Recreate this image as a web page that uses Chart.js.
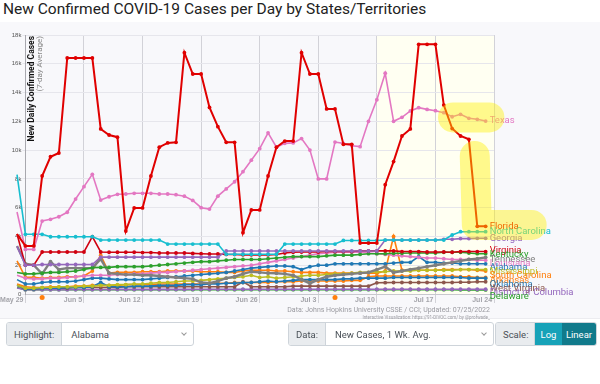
<!DOCTYPE html>
<html>
<head>
<meta charset="utf-8">
<script src="https://cdn.jsdelivr.net/npm/chart.js@4.4.0/dist/chart.umd.min.js"></script>
<style>
  html, body { margin: 0; padding: 0; background: #fff; }
  body { width: 600px; height: 384px; position: relative; overflow: hidden; font-family: Roboto, Arial, sans-serif; }
  #title { position: absolute; left: 3px; top: 0px; font-size: 15.5px; color: #222; white-space: nowrap; }
  #panel { position: absolute; left: 0; top: 22px; width: 600px; height: 296px; background: #f8f8fb; border-bottom: 1px solid #ececf0; }
  #chart { position: absolute; left: 0; top: 0; }
  .src { position: absolute; right: 110px; color: #9a9aa0; white-space: nowrap; }
  .grp { position: absolute; top: 322px; height: 22px; border: 1px solid #ced4da; border-radius: 3px; background: #fff; font-size: 9.5px; color: #495057; display: flex; align-items: center; overflow: hidden; }
  .lbl { background: #e9ecef; height: 100%; display: flex; align-items: center; padding: 0 7px; border-right: 1px solid #ced4da; }
  .sel { padding-left: 9px; flex: 1; }
  .chev { width: 3px; height: 3px; border-right: 1px solid #999; border-bottom: 1px solid #999; transform: rotate(45deg); margin: 0 7px 3px 0; }
  .btn { height: 100%; display: flex; align-items: center; justify-content: center; color: #fff; font-size: 9.5px; }
</style>
</head>
<body>
<div id="title">New Confirmed COVID-19 Cases per Day by States/Territories</div>
<div id="panel"></div>
<canvas id="chart" width="600" height="320"></canvas>
<div class="src" style="top:306px;font-size:7px;">Data: Johns Hopkins University CSSE / CCI; Updated: 07/25/2022</div>
<div class="src" style="top:315px;font-size:4.5px;">Interactive Visualization: https://91-DIVOC.com/ by @profwade_</div>

<div class="grp" style="left:6px;width:186px;"><span class="lbl">Highlight:</span><span class="sel">Alabama</span><span class="chev"></span></div>
<div class="grp" style="left:288px;width:204px;"><span class="lbl">Data:</span><span class="sel">New Cases, 1 Wk. Avg.</span><span class="chev"></span></div>
<div class="grp" style="left:495px;width:100px;"><span class="lbl" style="width:24px;">Scale:</span><span class="btn" style="background:#17a2b8;width:27px;">Log</span><span class="btn" style="background:#117a8b;flex:1;">Linear</span></div>

<script>
// first value is May 26 (3 days before the May 29 axis start), one value per day up to Jul 23
const startOffset = -3;
const weekTicks = [0, 7, 14, 21, 28, 35, 42, 49, 56];
const weekLabels = ['May 29', 'Jun 5', 'Jun 12', 'Jun 19', 'Jun 26', 'Jul 3', 'Jul 10', 'Jul 17', 'Jul 24'];
const yTicks = [0, 2000, 4000, 6000, 8000, 10000, 12000, 14000, 16000, 18000];

const florida = [4170, 4170, 4170,
  3340, 3340, 8200, 9540, 9800, 16400, 16400,
  16400, 16400, 11470, 11050, 10900, 4380, 5980,
  5980, 8200, 10200, 10500, 10540, 16770, 15290,
  15290, 12970, 11630, 10540, 10540, 4260, 5840,
  5840, 8200, 10200, 10630, 10630, 16770, 15290,
  15290, 12860, 12860, 10400, 10400, 3540, 3540,
  3540, 7600, 9200, 10980, 11470, 17350, 17350,
  17350, 13130, 11500, 10980, 10750, 4700, 4700];
const texas = [6300, 6000, 5700,
  3100, 3100, 5070, 5190, 5370, 5680, 6600,
  7460, 8320, 6530, 6760, 6930, 6950, 7000,
  7000, 7000, 6950, 6950, 6900, 6800, 6500,
  6000, 5900, 6800, 7300, 7800, 8500, 9300,
  10100, 11200, 10200, 10470, 10500, 10800, 10000,
  8000, 8000, 10560, 10470, 10300, 10240, 12000,
  13500, 15340, 12000, 12280, 12720, 12950, 12830,
  12740, 12600, 12320, 12490, 12210, 12140, 12020];
const northCarolina = [8300, 8300, 8300,
  4150, 4150, 4150, 3980, 3980, 3980, 3980,
  3980, 3980, 3750, 3750, 3750, 3750, 3750,
  3750, 3750, 3750, 3470, 3470, 3470, 3470,
  3470, 3470, 3470, 2760, 2760, 2760, 2760,
  2760, 2760, 2760, 3470, 3470, 3470, 3470,
  3470, 3470, 3470, 3720, 3720, 3720, 3720,
  3720, 3750, 3750, 3750, 3750, 3750, 3750,
  3750, 3750, 4100, 4330, 4330, 4330, 4330];
const georgia = [3300, 3300, 3300,
  2000, 2000, 2050, 2050, 2050, 2050, 2050,
  2050, 2050, 2560, 2560, 2560, 2560, 2560,
  2560, 2560, 2560, 2560, 2560, 2560, 2560,
  2560, 2560, 2560, 2990, 2990, 2990, 2990,
  2990, 2990, 2990, 2990, 2990, 2990, 2990,
  2990, 2990, 2990, 2990, 2990, 2990, 2990,
  2990, 3750, 3750, 3750, 3750, 3750, 3750,
  3750, 3800, 3800, 3850, 3850, 3870, 3870];
const virginia = [4170, 4170, 4170,
  2000, 2000, 2920, 2920, 2920, 2920, 2920,
  2920, 3980, 2920, 2900, 2900, 2900, 2900,
  2880, 2880, 2850, 2850, 2850, 2850, 2820,
  2800, 2780, 2780, 2750, 2750, 2720, 2720,
  2720, 2720, 2750, 2850, 2900, 2920, 2920,
  2920, 2950, 2950, 2950, 2950, 3000, 3000,
  3000, 3000, 3000, 2950, 2950, 2950, 2920,
  2920, 2920, 2900, 2950, 2950, 2950, 2950];
const kentucky = [1500, 1500, 1500,
  1400, 1400, 1450, 1500, 1500, 1550, 1600,
  1700, 1830, 1850, 1850, 1900, 1900, 1900,
  1900, 1950, 2000, 2050, 2100, 2150, 2200,
  2250, 2250, 2300, 2350, 2400, 2400, 2400,
  2400, 2450, 2500, 2550, 2600, 2600, 2600,
  2600, 2650, 2700, 2700, 2700, 2750, 2800,
  2800, 2800, 2830, 2830, 2850, 2850, 2850,
  2850, 2900, 2900, 2900, 2850, 2800, 2800];
const tennessee = [3340, 3340, 3340,
  2100, 2000, 1400, 2250, 1700, 1800, 1800,
  1800, 1800, 2430, 1450, 1400, 1350, 1350,
  1300, 1300, 1250, 1200, 1150, 1100, 1050,
  800, 750, 900, 1100, 1200, 1400, 1550,
  1500, 1450, 1440, 1400, 1300, 1000, 740,
  1000, 1200, 1300, 1350, 1400, 1450, 1500,
  1700, 1900, 1500, 1600, 1700, 1800, 1900,
  2000, 2100, 2200, 2300, 2400, 2450, 2550];
const louisiana = [1300, 1300, 1300,
  1100, 1050, 1050, 1100, 1100, 1150, 1200,
  1250, 1300, 1300, 1300, 1350, 1350, 1400,
  1400, 1450, 1500, 1500, 1550, 1600, 1650,
  1700, 1750, 1800, 1850, 1900, 1950, 2000,
  2100, 2200, 2300, 2400, 2500, 2600, 2700,
  2800, 2850, 2900, 2900, 2900, 2900, 2850,
  2800, 2750, 2700, 2650, 2600, 2550, 2500,
  2500, 2450, 2400, 2400, 2400, 2350, 2350];
const alabama = [1000, 1000, 1000,
  700, 700, 800, 850, 850, 850, 900,
  1000, 1100, 1100, 1050, 1000, 1000, 1000,
  1000, 1050, 1100, 1150, 1200, 1250, 1300,
  1350, 1400, 1440, 1500, 1600, 1700, 1800,
  1850, 1900, 1950, 1950, 1900, 1700, 1900,
  2000, 2000, 2100, 2100, 2100, 2100, 2100,
  2100, 2100, 2150, 2200, 2200, 2600, 2200,
  2200, 2150, 2150, 2100, 2100, 2100, 2100];
const mississippi = [600, 600, 600,
  400, 400, 450, 450, 500, 500, 500,
  550, 550, 600, 600, 650, 650, 700,
  700, 750, 800, 800, 850, 900, 900,
  950, 1000, 1050, 1100, 1150, 1200, 1300,
  1150, 1200, 1100, 1150, 1200, 1250, 1300,
  1300, 1350, 1400, 1400, 1450, 1500, 1500,
  1550, 1550, 1600, 1600, 1600, 1650, 1650,
  1650, 1650, 1650, 1700, 1700, 1700, 1700];
const southCarolina = [2300, 2300, 2300,
  1160, 1160, 1100, 1150, 1150, 1200, 1200,
  1250, 1600, 2700, 1450, 1500, 1500, 1500,
  1550, 1550, 1550, 1600, 1600, 1600, 1600,
  1550, 1550, 1550, 1500, 1500, 1600, 1650,
  1650, 1650, 1600, 1600, 1550, 1500, 1500,
  1500, 1450, 1450, 1450, 1450, 1450, 1450,
  1450, 1600, 4000, 1650, 1650, 1650, 1650,
  1650, 1700, 1700, 1700, 1700, 1650, 1600];
const oklahoma = [600, 600, 600,
  350, 350, 400, 400, 400, 450, 450,
  450, 500, 800, 500, 500, 500, 550,
  550, 550, 600, 600, 600, 650, 650,
  650, 700, 700, 750, 750, 800, 800,
  850, 900, 850, 900, 950, 1000, 1000,
  1000, 1000, 1000, 1050, 1050, 1100, 1100,
  1100, 1100, 1150, 1150, 1150, 1150, 1150,
  1150, 1150, 1150, 1150, 1100, 1100, 1100];
const arkansas = [700, 700, 700,
  500, 450, 450, 500, 500, 500, 550,
  550, 600, 600, 600, 600, 650, 650,
  650, 650, 700, 700, 700, 700, 700,
  700, 750, 750, 750, 800, 800, 800,
  800, 800, 850, 850, 850, 900, 900,
  900, 900, 900, 900, 950, 950, 1200,
  1250, 1250, 1250, 1250, 1250, 1250, 1250,
  1250, 1250, 1250, 1200, 1200, 1150, 1150];
const westVirginia = [600, 600, 600,
  350, 350, 400, 400, 400, 400, 450,
  450, 450, 450, 450, 450, 500, 500,
  500, 500, 500, 500, 500, 500, 500,
  500, 500, 500, 500, 500, 850, 500,
  500, 500, 500, 500, 550, 550, 550,
  550, 550, 550, 550, 550, 550, 550,
  780, 790, 800, 800, 800, 800, 800,
  800, 800, 800, 820, 820, 850, 850];
const districtOfColumbia = [420, 420, 420,
  300, 300, 300, 300, 300, 300, 310,
  310, 310, 310, 310, 320, 320, 320,
  320, 320, 320, 320, 320, 320, 330,
  330, 330, 330, 330, 330, 330, 330,
  330, 330, 330, 330, 330, 330, 330,
  330, 330, 330, 330, 330, 330, 330,
  330, 330, 330, 330, 330, 330, 330,
  330, 330, 330, 330, 330, 330, 330];
const delaware = [450, 450, 450,
  300, 300, 300, 300, 300, 300, 300,
  300, 300, 300, 300, 300, 300, 300,
  300, 300, 300, 300, 300, 300, 300,
  300, 300, 300, 300, 300, 300, 300,
  300, 300, 300, 300, 300, 300, 300,
  300, 300, 300, 300, 300, 300, 300,
  300, 300, 300, 300, 300, 300, 300,
  300, 300, 300, 290, 290, 280, 280];

// [name, values, colour, line width]; first entry is drawn on top
const series = [
  ['Florida', florida, '#e00000', 2],
  ['Texas', texas, '#e377c2', 1.6],
  ['North Carolina', northCarolina, '#17becf', 1.6],
  ['Georgia', georgia, '#9467bd', 1.6],
  ['Virginia', virginia, '#d00010', 1.6],
  ['Kentucky', kentucky, '#2ca02c', 1.6],
  ['Tennessee', tennessee, '#7f7f7f', 2.4],
  ['Louisiana', louisiana, '#e377c2', 1.6],
  ['Alabama', alabama, '#1f77b4', 1.6],
  ['Mississippi', mississippi, '#bcbd22', 1.6],
  ['South Carolina', southCarolina, '#ff7f0e', 1.6],
  ['Oklahoma', oklahoma, '#1f77b4', 1.6],
  ['Arkansas', arkansas, '#ff7f0e', 1.6],
  ['West Virginia', westVirginia, '#8c564b', 1.6],
  ['District of Columbia', districtOfColumbia, '#9467bd', 1.6],
  ['Delaware', delaware, '#2ca02c', 1.6]
];

// yellow marker strokes, in [day, cases]
const highlightPaths = [
  [[51.1, 12270], [55.45, 12270]],
  [[53.7, 9590], [53.95, 4800], [60.5, 4800]]
];
const markerDays = [2, 37];
const bandStart = 42;

const datasets = series.map(([name, values, color, width]) => ({
  label: name,
  data: values.map((v, i) => ({ x: startOffset + i, y: v })),
  borderColor: color,
  backgroundColor: color,
  borderWidth: width,
  pointRadius: 1.9,
  pointBorderWidth: 0,
  clip: false
}));

const decor = {
  id: 'decor',
  beforeDraw(chart) {
    const { ctx, chartArea: a, scales: { x } } = chart;
    const x0 = x.getPixelForValue(bandStart);
    ctx.save();
    ctx.fillStyle = '#fffff2';
    ctx.fillRect(x0, a.top, a.right - x0, a.bottom - a.top);
    ctx.restore();
  },
  afterDatasetsDraw(chart) {
    const { ctx, chartArea: a, scales: { x, y } } = chart;
    ctx.save();

    // state names at the end of each line, packed between the lines and the bottom edge
    const gap = 4.2, lowest = a.bottom + 3;
    const ends = chart.data.datasets.map((ds, i) => {
      const pts = chart.getDatasetMeta(i).data;
      const p = pts[pts.length - 1];
      return { name: ds.label, color: ds.borderColor, x: p.x, y: p.y };
    }).sort((p, q) => p.y - q.y);
    for (let i = 1; i < ends.length; i++) {
      if (ends[i].y < ends[i - 1].y + gap) ends[i].y = ends[i - 1].y + gap;
    }
    for (let i = ends.length - 1; i >= 0; i--) {
      const limit = i === ends.length - 1 ? lowest : ends[i + 1].y - gap;
      if (ends[i].y > limit) ends[i].y = limit;
    }
    ctx.font = '9.5px Roboto, Arial, sans-serif';
    ctx.textBaseline = 'middle';
    ctx.textAlign = 'left';
    ends.forEach(e => {
      ctx.fillStyle = e.color;
      ctx.fillText(e.name, e.x + 4, e.y);
    });

    // orange markers under the axis
    ctx.fillStyle = '#ff7f0e';
    markerDays.forEach(d => {
      ctx.beginPath();
      ctx.arc(x.getPixelForValue(d), a.bottom + 3.5, 2.5, 0, Math.PI * 2);
      ctx.fill();
    });

    // yellow highlighter strokes
    ctx.strokeStyle = 'rgba(255, 240, 0, 0.42)';
    ctx.lineWidth = 30;
    ctx.lineCap = 'round';
    ctx.lineJoin = 'round';
    highlightPaths.forEach(path => {
      ctx.beginPath();
      path.forEach(([d, v], i) => {
        const px = x.getPixelForValue(d), py = y.getPixelForValue(v);
        if (i === 0) ctx.moveTo(px, py); else ctx.lineTo(px, py);
      });
      ctx.stroke();
    });
    ctx.restore();
  },
  afterDraw(chart) {
    const { ctx, chartArea: a } = chart;
    ctx.save();
    ctx.translate(a.left + 6, a.top);
    ctx.rotate(-Math.PI / 2);
    ctx.textAlign = 'right';
    ctx.textBaseline = 'middle';
    ctx.fillStyle = '#111';
    ctx.font = 'bold 8.5px Roboto, Arial, sans-serif';
    ctx.fillText('New Daily Confirmed Cases', -1, 0);
    ctx.fillStyle = '#888';
    ctx.font = '8px Roboto, Arial, sans-serif';
    ctx.fillText('(7-day Average)', -1, 8.5);
    ctx.restore();
  }
};

new Chart(document.getElementById('chart'), {
  type: 'line',
  data: { datasets },
  options: {
    responsive: false,
    animation: false,
    layout: { padding: { top: 35, right: 106, bottom: 10, left: 0 } },
    plugins: { legend: { display: false }, tooltip: { enabled: false } },
    elements: { line: { tension: 0 } },
    scales: {
      x: {
        type: 'linear', min: 0, max: 56,
        afterFit: s => { s.height = 16; },
        afterBuildTicks: s => { s.ticks = weekTicks.map(v => ({ value: v })); },
        grid: { color: '#d2d2d8', tickLength: 9 },
        border: { color: '#c8c8ce' },
        ticks: {
          align: 'end', padding: -7, autoSkip: false, maxRotation: 0,
          font: { size: 7, weight: 'bold' }, color: '#a4a4aa',
          callback: v => weekLabels[weekTicks.indexOf(v)] + ' '
        }
      },
      y: {
        min: 0, max: 18000,
        afterFit: s => { s.width = 25.4; },
        afterBuildTicks: s => { s.ticks = yTicks.map(v => ({ value: v })); },
        grid: { color: '#e6e6ec', tickLength: 3 },
        border: { color: '#a8a8ae' },
        ticks: {
          padding: 1, font: { size: 6 }, color: '#555',
          callback: v => v === 0 ? '0' : (v / 1000) + 'k'
        }
      }
    }
  },
  plugins: [decor]
});
</script>
</body>
</html>
